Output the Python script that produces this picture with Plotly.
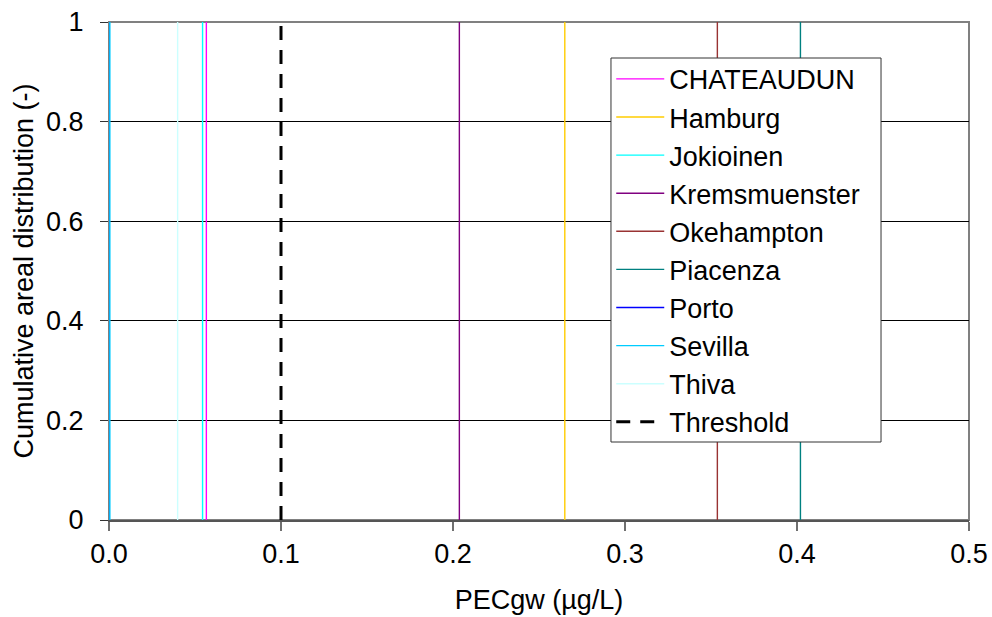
import plotly.graph_objects as go

# Cumulative areal distribution of predicted groundwater concentrations per location
locations = ["CHATEAUDUN", "Hamburg", "Jokioinen", "Kremsmuenster", "Okehampton",
             "Piacenza", "Porto", "Sevilla", "Thiva"]
pec_values = [0.0566, 0.265, 0.0544, 0.2037, 0.3537, 0.402, 0.0, 0.0005, 0.0399]
line_colors = ["#FF00FF", "#FFCC00", "#00FFFF", "#800080", "#993333",
               "#008080", "#0000FF", "#00CCFF", "#CCFFFF"]
cumulative_fraction = [0.0, 1.0]

threshold_value = 0.1
x_ticks = [0.0, 0.1, 0.2, 0.3, 0.4, 0.5]
y_ticks = [0, 0.2, 0.4, 0.6, 0.8, 1]

FONT = "Liberation Sans, Arial, sans-serif"

fig = go.Figure()

for name, pec, color in zip(locations, pec_values, line_colors):
    fig.add_trace(go.Scatter(
        x=[pec] * len(cumulative_fraction), y=cumulative_fraction,
        mode="lines", name=name,
        line=dict(color=color, width=1.4),
    ))

fig.add_trace(go.Scatter(
    x=[threshold_value] * len(cumulative_fraction), y=cumulative_fraction,
    mode="lines", name="Threshold",
    line=dict(color="black", width=3, dash="14px,10px"),
))

# grey plot-area frame (top and right edges)
fig.add_shape(type="rect", xref="paper", yref="paper", x0=0, x1=1, y0=0, y1=1,
              line=dict(color="#808080", width=2), layer="between")

# legend panel: white box with dark border, drawn over the lines
fig.add_shape(type="rect", xref="paper", yref="paper",
              x0=0.5837, x1=0.8977, y0=0.1566, y1=0.9277,
              fillcolor="white", line=dict(color="#333333", width=1), layer="above")

fig.update_layout(
    width=992, height=617,
    margin=dict(l=109, r=23, t=22, b=97),
    paper_bgcolor="white", plot_bgcolor="white",
    font=dict(family=FONT, size=26, color="black"),
    showlegend=True,
    legend=dict(
        x=0.584, y=0.934, xanchor="left", yanchor="top",
        bgcolor="rgba(0,0,0,0)", borderwidth=0,
        font=dict(family=FONT, size=27, color="black"),
        tracegroupgap=0, itemwidth=48,
    ),
    xaxis=dict(
        range=[0, 0.5], tickvals=x_ticks, tickformat=".1f",
        ticks="outside", ticklen=9, tickwidth=2, tickcolor="#707070",
        showgrid=False, zeroline=False, automargin=False,
        showline=True, linecolor="#555555", linewidth=2,
        title=dict(text="PECgw (µg/L)", font=dict(size=27), standoff=22),
        tickfont=dict(size=27),
    ),
    yaxis=dict(
        range=[0, 1], tickvals=y_ticks,
        ticks="outside", ticklen=8, tickwidth=1, tickcolor="#333333",
        ticklabelstandoff=11,
        showgrid=True, gridcolor="black", gridwidth=1,
        zeroline=False, automargin=False,
        showline=True, linecolor="#808080", linewidth=1,
        title=dict(text="Cumulative areal distribution (-)", font=dict(size=27), standoff=4),
        tickfont=dict(size=27),
    ),
)

fig.write_html("out.html")
